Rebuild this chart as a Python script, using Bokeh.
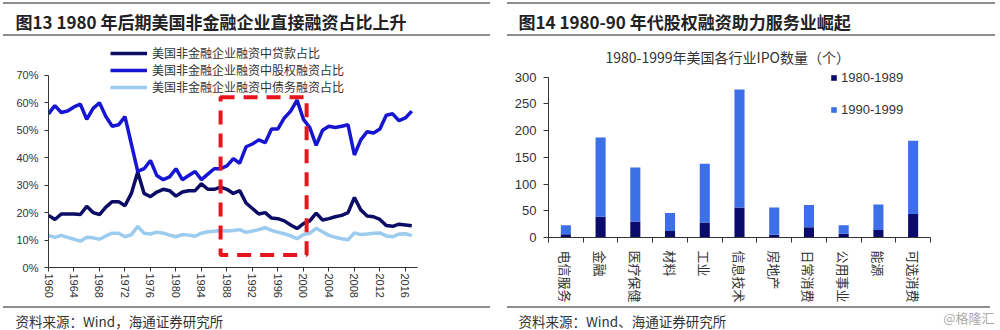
from bokeh.plotting import figure
from bokeh.models import (Range1d, FixedTicker, PrintfTickFormatter, CustomJSTickFormatter,
                          Label, BoxAnnotation, ColumnDataSource, Div)
from bokeh.layouts import row, column
from bokeh.embed import file_html
from bokeh.resources import INLINE

# ---------------- data: left chart (share of US non-financial corporate financing, %) -------------
years = list(range(1960, 2018))
loan_share = [19, 17.5, 19.5, 19.5, 19.5, 19.3, 22.3, 20, 19.3, 22, 24, 24, 22.5, 27, 34.8, 27,
              25.8, 27.5, 28.5, 28, 26, 27.5, 28, 28, 30.5, 28.5, 28.5, 29.3, 28.5, 27, 28, 23.5,
              21.5, 19.5, 20, 18, 17.8, 17, 15.5, 14.2, 16, 17, 19.8, 17.3, 17.8, 18.5, 19, 20,
              25.5, 21, 18.8, 18.5, 17.5, 15.3, 15, 15.8, 15.5, 15.2]
equity_share = [56, 59, 56.5, 57, 58.5, 59.5, 54, 58, 60, 55, 51.5, 52, 55, 45, 35, 36, 39, 33.5,
                32, 33, 36, 32, 33.5, 35, 32, 34, 36, 36, 37, 39.7, 38, 44, 45, 46.5, 45.5, 50.5,
                50.5, 54.5, 57, 61, 54, 51, 44.5, 50, 51.5, 51, 51.5, 52, 41, 46.5, 49.5, 49,
                50.5, 55.5, 56, 53.5, 54.5, 57]
bond_share = [11.7, 11, 11.7, 11, 10.3, 9.6, 11, 10.8, 10.3, 11.5, 12.5, 12.5, 11.2, 12, 15, 12.5,
              12.2, 12.9, 12.5, 11.8, 11.2, 12, 11.8, 11.4, 12.5, 13, 13.2, 13.5, 13.3, 13.5, 13.8,
              12.8, 13.3, 13.8, 14.5, 13.5, 12.9, 12.3, 11.5, 10.5, 12, 12.5, 14.3, 13, 11.7, 11,
              10.5, 10.1, 12.6, 12, 12.2, 12.5, 12.6, 11.5, 11.2, 12.2, 12.3, 11.6]
series_names = ["美国非金融企业融资中贷款占比", "美国非金融企业融资中股权融资占比",
                "美国非金融企业融资中债务融资占比"]
year_ticks = list(range(1960, 2017, 4))
pct_ticks = [0, 10, 20, 30, 40, 50, 60, 70]

# ---------------- data: right chart (US IPO counts by industry) ----------------
ipo_industries = ["电信服务", "金融", "医疗保健", "材料", "工业", "信息技术", "房地产",
                  "日常消费", "公用事业", "能源", "可选消费"]
ipo_1980s = [6, 39, 30, 12, 28, 56, 5, 19, 7, 14, 44]
ipo_1990s = [17, 148, 101, 34, 110, 221, 51, 42, 16, 48, 137]
ipo_periods = ["1980-1989", "1990-1999"]
ipo_ticks = [0, 50, 100, 150, 200, 250, 300]

CJK = "Noto Sans CJK SC"
LAT = "Liberation Sans"
AX = "#333333"
RULE = "#8f8f8f"


def rule(x0, x1, top, bottom):
    """Thin gray horizontal separator (a plain 2px box)."""
    return Div(text="", width=x1 - x0, height=2, margin=(top, 0, bottom, x0),
               styles={"background-color": RULE})


def strip(height):
    f = figure(width=500, height=height, x_range=Range1d(0, 500), y_range=Range1d(0, height),
               toolbar_location=None, output_backend="svg", min_border=0,
               min_border_left=0, min_border_right=0, min_border_top=0, min_border_bottom=0,
               x_axis_location=None, y_axis_location=None, outline_line_color=None)
    f.grid.visible = False
    return f


def header(text, tx):
    h = strip(30)                      # canvas y 4..34
    h.add_layout(Label(x=tx, y=30 - 16.5, text=text, text_font=CJK, text_font_size="17px",
                       text_font_style="bold", text_color="#222222", text_baseline="middle"))
    return h


def footer(text, tx, mark=None):
    f = strip(22)                      # canvas y 308..330
    f.add_layout(Label(x=tx, y=22 - 12, text=text, text_font=CJK, text_font_size="13.5px",
                       text_color="#333333", text_baseline="middle"))
    if mark:
        f.add_layout(Label(x=494, y=22 - 8.7, text=mark, text_font=CJK, text_font_size="13px",
                           text_color="#aaaaaa", text_baseline="middle", text_align="right"))
    return f


def style_axes(p, tick_size):
    for ax in (p.xaxis[0], p.yaxis[0]):
        ax.axis_line_color = AX
        ax.major_tick_line_color = AX
        ax.minor_tick_line_color = AX
        ax.major_tick_in = 0
        ax.minor_tick_in = 0
        ax.major_tick_out = 4
        ax.minor_tick_out = 0
        ax.major_label_text_color = "#333333"
        ax.major_label_text_font = LAT
        ax.major_label_text_font_size = tick_size


# ---------------- left main chart ----------------
p1 = figure(width=500, height=267, x_range=Range1d(1960, 2017.9), y_range=Range1d(0, 80.9),
            toolbar_location=None, output_backend="svg", min_border_left=48, min_border_right=83,
            min_border_top=7, min_border_bottom=38, outline_line_color=None)
p1.grid.visible = False
src1 = ColumnDataSource(dict(year=years, loan=loan_share, equity=equity_share, bond=bond_share))
p1.line("year", "loan", source=src1, line_color="#0c0c66", line_width=3.5, legend_label=series_names[0])
p1.line("year", "equity", source=src1, line_color="#1616d2", line_width=3.5, legend_label=series_names[1])
p1.line("year", "bond", source=src1, line_color="#9ccbf0", line_width=3.5, legend_label=series_names[2])
p1.add_layout(BoxAnnotation(left=1987, right=2000.5, bottom=4.6, top=62, fill_alpha=0,
                            line_color="#e8141b", line_alpha=1.0, line_width=4, line_dash="14 9"))
style_axes(p1, "11px")
p1.xaxis.ticker = FixedTicker(ticks=year_ticks)
p1.xaxis.major_label_orientation = "vertical"
p1.xaxis.major_label_standoff = 2
p1.yaxis.ticker = FixedTicker(ticks=pct_ticks)
p1.yaxis.formatter = PrintfTickFormatter(format="%d%%")
p1.yaxis.bounds = (0, 70)
p1.yaxis.major_label_standoff = 6
lg1 = p1.legend[0]
lg1.location = (62, 172)
lg1.glyph_width = 37
lg1.glyph_height = 14
lg1.label_height = 14
lg1.spacing = 0
lg1.padding = 0
lg1.margin = 0
lg1.label_standoff = 5
lg1.border_line_color = None
lg1.background_fill_alpha = 0
lg1.label_text_font = CJK
lg1.label_text_font_size = "12px"
lg1.label_text_color = "#333333"

# ---------------- right main chart ----------------
p2 = figure(width=500, height=267, x_range=Range1d(0, len(ipo_industries)), y_range=Range1d(0, 359.4),
            toolbar_location=None, output_backend="svg", min_border_left=48, min_border_right=70,
            min_border_top=7, min_border_bottom=68, outline_line_color=None)
p2.grid.visible = False
centers = [i + 0.5 for i in range(len(ipo_industries))]
src2 = ColumnDataSource(dict(x=centers, a=ipo_1980s, b=ipo_1990s))
p2.vbar_stack(["a", "b"], x="x", width=0.29, source=src2, color=["#0b0b6b", "#3d6fe8"],
              line_color=None, legend_label=ipo_periods)
style_axes(p2, "13px")
p2.xaxis.ticker = FixedTicker(ticks=centers, minor_ticks=list(range(len(ipo_industries) + 1)))
p2.xaxis.formatter = CustomJSTickFormatter(args=dict(cats=ipo_industries),
                                           code="return cats[Math.floor(tick)] || '';")
p2.xaxis.major_tick_out = 0
p2.xaxis.minor_tick_out = 5
p2.xaxis.major_label_orientation = "vertical"
p2.xaxis.major_label_text_font = CJK
p2.xaxis.major_label_standoff = 8
p2.yaxis.ticker = FixedTicker(ticks=ipo_ticks)
p2.yaxis.bounds = (0, 300)
p2.yaxis.major_tick_out = 5
p2.yaxis.major_label_standoff = 7
p2.add_layout(Label(x=5.16, y=337, text="1980-1999年美国各行业IPO数量（个）", text_font=CJK,
                    text_font_size="14px", text_color="#333333", text_align="center",
                    text_baseline="middle"))
lg2 = p2.legend[0]
lg2.location = (282, 119.7)
lg2.glyph_width = 7
lg2.glyph_height = 7
lg2.label_height = 14
lg2.spacing = 17
lg2.padding = 0
lg2.margin = 0
lg2.label_standoff = 4
lg2.border_line_color = None
lg2.background_fill_alpha = 0
lg2.label_text_font = LAT
lg2.label_text_font_size = "13px"
lg2.label_text_color = "#333333"

left = column(rule(3, 490, 2, 0),
              row(header("图13 1980 年后期美国非金融企业直接融资占比上升", 15)),
              rule(3, 490, 0, 2),
              row(p1),
              rule(3, 490, 1, 0),
              row(footer("资料来源：Wind，海通证券研究所", 15)))
right = column(rule(7, 495, 2, 0),
               row(header("图14 1980-90 年代股权融资助力服务业崛起", 18)),
               rule(7, 495, 0, 2),
               row(p2),
               rule(7, 490, 1, 0),
               row(footer("资料来源：Wind、海通证券研究所", 18, mark="@格隆汇")))
layout = row(left, right)

open("out.html", "w").write(file_html(layout, INLINE))
